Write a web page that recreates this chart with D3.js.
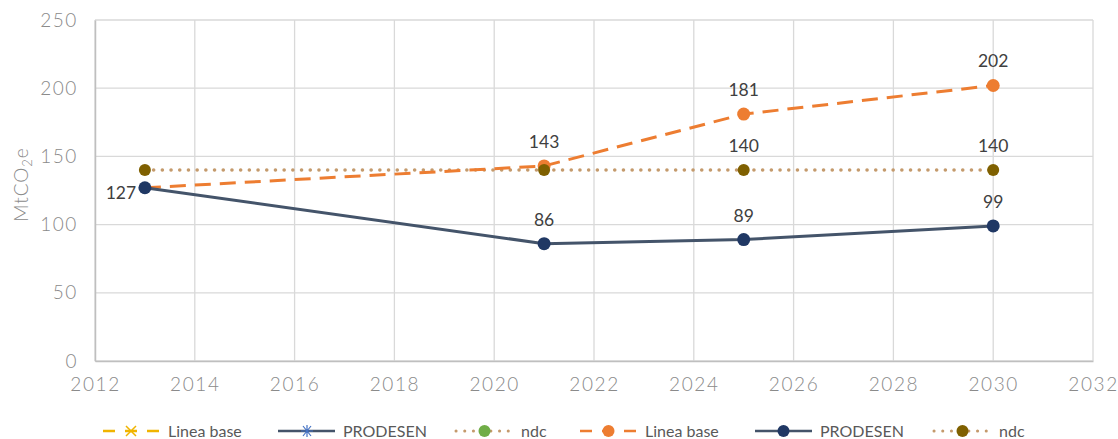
<!DOCTYPE html>
<html>
<head>
<meta charset="utf-8">
<script src="https://d3js.org/d3.v7.min.js"></script>
<style>
  body { margin: 0; background: #fff; }
  .tick text { font-family: Lato, "Open Sans", sans-serif; font-weight: 300; letter-spacing: 1.6px; }
</style>
</head>
<body>
<svg id="chart" width="1118" height="439"></svg>
<script>
// data
var years = [2013, 2021, 2025, 2030]
var lineaBase = [127, 143, 181, 202]
var prodesen = [127, 86, 89, 99]
var ndc = [140, 140, 140, 140]
var xTicks = [2012, 2014, 2016, 2018, 2020, 2022, 2024, 2026, 2028, 2030, 2032]
var yTicks = [0, 50, 100, 150, 200, 250]

var svg = d3.select("#chart")
var margin = { top: 20, right: 25, bottom: 78, left: 95 }
var width = 1118 - margin.left - margin.right
var height = 439 - margin.top - margin.bottom

var g = svg.append("g").attr("transform", "translate(" + margin.left + "," + margin.top + ")")

var x = d3.scaleLinear().domain([2012, 2032]).range([0, width])
var y = d3.scaleLinear().domain([0, 250]).range([height, 0])

// gridlines
g.selectAll(".vgrid").data(xTicks).enter().append("line")
  .attr("x1", d => x(d)).attr("x2", d => x(d))
  .attr("y1", 0).attr("y2", height)
  .attr("stroke", "#d9d9d9").attr("stroke-width", 1.3)
g.selectAll(".hgrid").data(yTicks).enter().append("line")
  .attr("x1", 0).attr("x2", width)
  .attr("y1", d => y(d)).attr("y2", d => y(d))
  .attr("stroke", "#d9d9d9").attr("stroke-width", 1.3)

// axes
var xAxis = g.append("g").attr("transform", "translate(0," + height + ")")
  .call(d3.axisBottom(x).tickValues(xTicks).tickFormat(d3.format("d")).tickSize(0).tickPadding(17))
xAxis.select(".domain").attr("stroke", "#bfbfbf").attr("stroke-width", 1.5)
xAxis.selectAll("text").attr("font-size", 19).attr("fill", "#8a8a8a")

var yAxis = g.append("g")
  .call(d3.axisLeft(y).tickValues(yTicks).tickSize(0).tickPadding(17))
yAxis.select(".domain").attr("stroke", "#bfbfbf").attr("stroke-width", 1.5)
yAxis.selectAll("text").attr("font-size", 19).attr("fill", "#8a8a8a")

// y title
var yt = svg.append("text")
  .attr("transform", "translate(28," + (margin.top + height / 2 - 6) + ") rotate(-90)")
  .attr("text-anchor", "middle")
  .attr("font-family", "Lato, sans-serif").attr("font-weight", 300)
  .attr("letter-spacing", 1)
  .attr("font-size", 19).attr("fill", "#8a8a8a")
yt.append("tspan").text("MtCO")
yt.append("tspan").attr("font-size", 13).attr("dy", 4).text("2")
yt.append("tspan").attr("dy", -4).text("e")

var line = d3.line().x(d => x(d[0])).y(d => y(d[1]))
function pairs(vals) { return years.map((yr, i) => [yr, vals[i]]) }

// ndc
g.append("path").datum(pairs(ndc))
  .attr("d", line).attr("fill", "none")
  .attr("stroke", "#c49a6c").attr("stroke-width", 3.5)
  .attr("stroke-linecap", "round").attr("stroke-dasharray", "0.1 8.6")
// linea base
g.append("path").datum(pairs(lineaBase))
  .attr("d", line).attr("fill", "none")
  .attr("stroke", "#ed7d31").attr("stroke-width", 3)
  .attr("stroke-dasharray", "16 9")
// prodesen
g.append("path").datum(pairs(prodesen))
  .attr("d", line).attr("fill", "none")
  .attr("stroke", "#44546a").attr("stroke-width", 3)

// markers
g.selectAll(".mb").data(pairs(lineaBase).slice(1)).enter().append("circle")
  .attr("cx", d => x(d[0])).attr("cy", d => y(d[1])).attr("r", 6.5).attr("fill", "#ed7d31")
g.selectAll(".mn").data(pairs(ndc)).enter().append("circle")
  .attr("cx", d => x(d[0])).attr("cy", d => y(d[1])).attr("r", 6).attr("fill", "#7f6000")
g.selectAll(".mp").data(pairs(prodesen)).enter().append("circle")
  .attr("cx", d => x(d[0])).attr("cy", d => y(d[1])).attr("r", 6.5).attr("fill", "#203864")

// labels
var labels = []
pairs(lineaBase).slice(1).forEach(d => labels.push({ x: d[0], v: d[1], dx: 0, dy: -18 }))
pairs(ndc).slice(2).forEach(d => labels.push({ x: d[0], v: d[1], dx: 0, dy: -18 }))
pairs(prodesen).slice(1).forEach(d => labels.push({ x: d[0], v: d[1], dx: 0, dy: -18 }))
labels.push({ x: years[0], v: prodesen[0], dx: -24, dy: 11 })

g.selectAll(".lbl").data(labels).enter().append("text")
  .attr("x", d => x(d.x) + d.dx).attr("y", d => y(d.v) + d.dy)
  .attr("text-anchor", "middle")
  .attr("font-family", "Lato, 'Open Sans', sans-serif")
  .attr("font-size", 17.5).attr("fill", "#404040")
  .text(d => d.v)

// legend
var legend = [
  { name: "Linea base", color: "#f0b400", dash: "12 10", marker: "x", mcolor: "#f0b400", x0: 103 },
  { name: "PRODESEN", color: "#44546a", dash: null, marker: "star", mcolor: "#4472c4", x0: 278 },
  { name: "ndc", color: "#c49a6c", dash: "0.1 8.6", marker: "dot", mcolor: "#70ad47", x0: 456 },
  { name: "Linea base", color: "#ed7d31", dash: "12 10", marker: "dot", mcolor: "#ed7d31", x0: 580 },
  { name: "PRODESEN", color: "#44546a", dash: null, marker: "dot", mcolor: "#203864", x0: 755 },
  { name: "ndc", color: "#c49a6c", dash: "0.1 8.6", marker: "dot", mcolor: "#7f6000", x0: 934 }
]
var ly = 431
var lg = svg.selectAll(".leg").data(legend).enter().append("g")
  .attr("transform", d => "translate(" + d.x0 + "," + ly + ")")
lg.append("line").attr("x1", 0).attr("x2", 57).attr("y1", 0).attr("y2", 0)
  .attr("stroke", d => d.color).attr("stroke-width", d => d.dash && d.dash[0] == "0" ? 3 : 2.5)
  .attr("stroke-linecap", d => d.dash && d.dash[0] == "0" ? "round" : "butt")
  .attr("stroke-dasharray", d => d.dash)
lg.each(function (d) {
  var s = d3.select(this)
  if (d.marker == "x") {
    s.append("path").attr("d", "M23,-5L33,5M23,5L33,-5").attr("stroke", d.mcolor).attr("stroke-width", 1.5)
  } else if (d.marker == "star") {
    s.append("path").attr("d", "M23,0L35,0M29,-6L29,6M25,-5L33,5M25,5L33,-5").attr("stroke", d.mcolor).attr("stroke-width", 1.2)
  } else {
    s.append("circle").attr("cx", 28.5).attr("cy", 0).attr("r", 6).attr("fill", d.mcolor)
  }
})
lg.append("text").attr("x", 65).attr("y", 6)
  .attr("font-family", "Lato, 'Open Sans', sans-serif")
  .attr("font-size", 16).attr("fill", "#595959")
  .text(d => d.name)
</script>
</body>
</html>
